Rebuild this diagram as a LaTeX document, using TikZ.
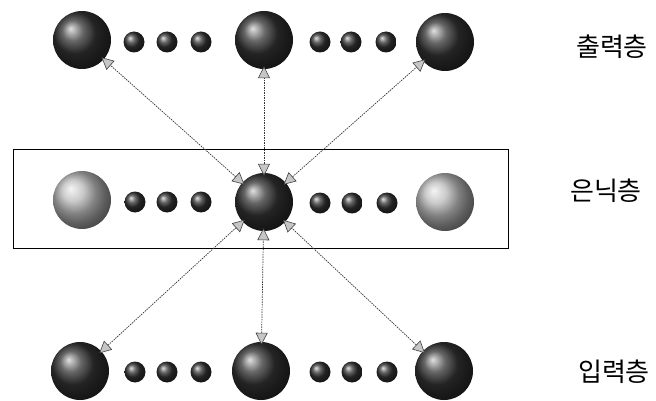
\documentclass[tikz,border=0pt]{standalone}
\usepackage{fontspec}
\newfontfamily\kr{Noto Sans CJK KR}
\usetikzlibrary{arrows.meta}
\tikzset{
  bigball/.style={circle,minimum size=58pt,inner sep=0pt,shading=ball,ball color=black!80},
  lightball/.style={circle,minimum size=58pt,inner sep=0pt,shading=ball,ball color=gray!55},
  smallball/.style={circle,minimum size=21pt,inner sep=0pt,shading=ball,ball color=black!80},
  conn/.style={draw=black!80,line width=0.7pt,dash pattern=on 1.5pt off 1pt,
    {Triangle[length=12pt,width=12pt,fill=gray!45,color=black!75,line width=0.6pt,sep=-3pt]}-{Triangle[length=12pt,width=12pt,fill=gray!45,color=black!75,line width=0.6pt,sep=-3pt]}},
  lab/.style={font=\kr\fontsize{26}{26}\selectfont,inner sep=0pt}
}
\begin{document}
\begin{tikzpicture}[x=1pt,y=-1pt]
\useasboundingbox (0,0) rectangle (656,401);
% hidden box
\node[draw=black,line width=0.8pt,minimum width=495pt,minimum height=99pt,inner sep=0pt] (box) at (260.5,198.5) {};
% output row
\node[bigball] (o1) at (82,40) {};
\node[smallball] (o1a) at (134,42) {};
\node[smallball] (o1b) at (167,42) {};
\node[smallball] (o1c) at (201,42) {};
\node[bigball] (o2) at (264,40) {};
\node[smallball] (o2a) at (320,42) {};
\node[smallball] (o2b) at (351,42) {};
\node[smallball] (o2c) at (386,42) {};
\node[bigball] (o3) at (445,42) {};
% hidden row
\node[lightball] (h1) at (82,200) {};
\node[smallball] (h1a) at (135,202) {};
\node[smallball] (h1b) at (167,202) {};
\node[smallball] (h1c) at (201,202) {};
\node[bigball] (h2) at (264,202) {};
\node[smallball] (h2a) at (320,203) {};
\node[smallball] (h2b) at (352,203) {};
\node[smallball] (h2c) at (387,203) {};
\node[lightball] (h3) at (445,202) {};
% input row
\node[bigball] (i1) at (80,371) {};
\node[smallball] (i1a) at (135,372) {};
\node[smallball] (i1b) at (167,372) {};
\node[smallball] (i1c) at (201,372) {};
\node[bigball] (i2) at (261,371) {};
\node[smallball] (i2a) at (320,372) {};
\node[smallball] (i2b) at (352,372) {};
\node[smallball] (i2c) at (387,372) {};
\node[bigball] (i3) at (444,371) {};
% connectors
\draw[conn] (h2) -- (o1);
\draw[conn] (h2) -- (o2);
\draw[conn] (h2) -- (o3);
\draw[conn] (i1) -- (h2);
\draw[conn] (i2) -- (h2);
\draw[conn] (i3) -- (h2);
% labels
\node[lab] (lo) at (612,47) {출력층};
\node[lab] (lh) at (606,191) {은닉층};
\node[lab] (li) at (614,372) {입력층};
\end{tikzpicture}
\end{document}
